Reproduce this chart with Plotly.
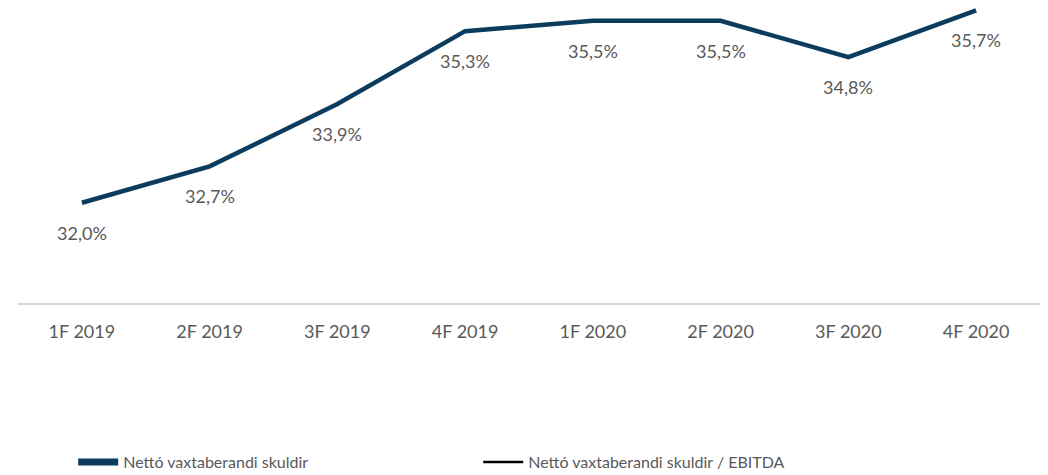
import plotly.graph_objects as go

categories = ["1F 2019", "2F 2019", "3F 2019", "4F 2019", "1F 2020", "2F 2020", "3F 2020", "4F 2020"]
ratio_values = [32.0, 32.7, 33.9, 35.3, 35.5, 35.5, 34.8, 35.7]
ratio_labels = ["32,0%", "32,7%", "33,9%", "35,3%", "35,5%", "35,5%", "34,8%", "35,7%"]

navy = "#0b3c5d"
gray = "#595959"
font_family = "Lato, 'Open Sans', sans-serif"

fig = go.Figure()

fig.add_trace(go.Scatter(
    x=categories, y=ratio_values, mode="lines",
    line=dict(color=navy, width=4.5),
    showlegend=False, hoverinfo="skip",
))

# legend-only entries
fig.add_trace(go.Scatter(
    x=[None], y=[None], mode="lines", name="Nettó vaxtaberandi skuldir",
    line=dict(color=navy, width=7),
))
fig.add_trace(go.Scatter(
    x=[None], y=[None], mode="lines", name="Nettó vaxtaberandi skuldir / EBITDA",
    line=dict(color="#000000", width=2.5),
))

for c, v, t in zip(categories, ratio_values, ratio_labels):
    fig.add_annotation(x=c, y=v, text=t, showarrow=False, yshift=-30,
                       font=dict(family=font_family, size=18, color=gray))

fig.update_layout(
    width=1048, height=475,
    margin=dict(l=10, r=16, t=0, b=180),
    paper_bgcolor="white", plot_bgcolor="white",
    font=dict(family=font_family, color=gray),
    xaxis=dict(
        type="category", showgrid=False, zeroline=False,
        range=[-0.5, 7.5],
        showline=True, linecolor="#d9d9d9", linewidth=1.5,
        ticks="", tickfont=dict(size=18, color=gray),
        ticklabelstandoff=12,
    ),
    yaxis=dict(range=[30.073, 35.745], visible=False, showgrid=False, zeroline=False),
    legend=dict(
        orientation="h", x=0.054, xanchor="left", y=-0.539, yanchor="middle",
        itemwidth=40, entrywidth=350, entrywidthmode="pixels",
        font=dict(size=16, color=gray), bgcolor="rgba(0,0,0,0)",
    ),
)

fig.write_html("out.html")
